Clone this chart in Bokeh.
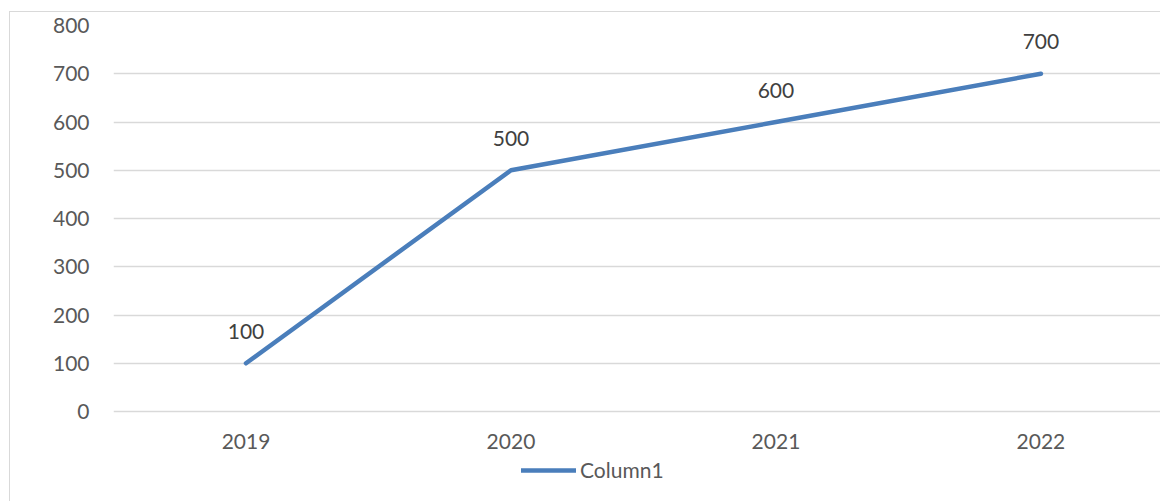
from bokeh.plotting import figure
from bokeh.models import (FixedTicker, Legend, LegendItem, Range1d)
from bokeh.core.properties import value
from bokeh.embed import file_html
from bokeh.resources import INLINE

years = ["2019", "2020", "2021", "2022"]
values = [100, 500, 600, 700]
y_ticks = [0, 100, 200, 300, 400, 500, 600, 700, 800]
series_name = "Column1"

xs = list(range(len(years)))
FONT = "Lato"
FS = "21px"
BLUE = "#4a7ebb"
GRID = "#d9d9d9"

p = figure(width=1151, height=490, output_backend="svg", toolbar_location=None,
           x_range=Range1d(-0.5, 3.455), y_range=Range1d(-188.6, 800),
           x_axis_location=None,
           min_border_left=103, min_border_right=0, min_border_top=13,
           min_border_bottom=0)
p.styles = {"margin-left": "9px", "margin-top": "11px",
            "border-left": "1px solid #d9d9d9", "border-top": "1px solid #d9d9d9"}
p.outline_line_color = None
p.background_fill_color = "white"
p.border_fill_color = "white"

p.xgrid.visible = False
p.ygrid.grid_line_color = GRID
p.ygrid.grid_line_width = 1.3
p.yaxis.ticker = FixedTicker(ticks=y_ticks)
p.yaxis.major_tick_line_color = None
p.yaxis.minor_tick_line_color = None
p.yaxis.major_label_text_font = FONT
p.yaxis.major_label_text_font_size = FS
p.yaxis.major_label_text_color = "#595959"
p.yaxis.axis_line_color = None
p.yaxis.major_label_standoff = 18

# category labels under the baseline
p.text(xs, [0] * len(xs), text=years, text_font=value(FONT),
       text_font_size=FS, text_color="#595959", text_align="center",
       text_baseline="middle", y_offset=30)

r = p.line(xs, values, line_color=BLUE, line_width=4.5,
           line_cap="round", line_join="round")

p.text(xs, values, text=[str(v) for v in values], text_font=value(FONT),
       text_font_size=FS, text_color="#404040", text_align="center",
       text_baseline="middle", y_offset=-32)

legend = Legend(items=[LegendItem(label=series_name, renderers=[r])],
                location=(408, 20), orientation="horizontal",
                border_line_color=None, background_fill_alpha=0,
                padding=0, margin=0, spacing=0,
                glyph_width=55, glyph_height=24, label_height=24,
                label_standoff=4, label_text_font=FONT,
                label_text_font_size=FS, label_text_color="#595959")
p.add_layout(legend, "center")

open("out.html", "w").write(file_html(p, INLINE))
